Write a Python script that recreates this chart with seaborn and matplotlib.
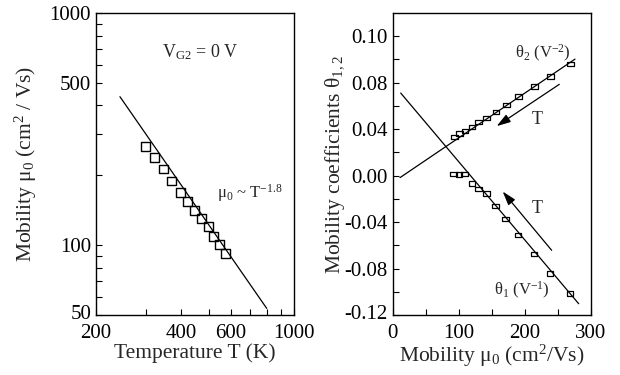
import matplotlib
matplotlib.use("Agg")
import matplotlib.pyplot as plt
import seaborn as sns
import numpy as np
from matplotlib.ticker import FixedLocator, NullFormatter, FixedFormatter
from matplotlib.transforms import ScaledTranslation

# ---------------- data ----------------
temp_T = [300, 322, 346, 370, 397, 421, 445, 471, 499, 521, 545, 572]
mu0_T = [267, 238, 213, 189, 169, 154, 141, 130, 120, 109, 101, 92]
fit_T = [243, 801]
fit_mu = [436, 53.4]

mu_theta2 = [93.3, 101.4, 109.4, 120.0, 130.1, 142.2, 156.3, 172.0, 190.6, 214.8, 239.0, 269.3]
theta2 = [0.0334, 0.0363, 0.0383, 0.0420, 0.0460, 0.0497, 0.0549, 0.0609, 0.0680, 0.0766, 0.0854, 0.0963]
mu_theta1 = [91.7, 100.3, 108.9, 120.0, 130.1, 142.2, 155.2, 170.9, 189.5, 213.7, 237.9, 268.6]
theta1 = [0.0015, 0.0009, 0.0015, -0.0069, -0.0115, -0.0154, -0.0261, -0.0372, -0.0509, -0.0674, -0.0843, -0.1015]
fit2_mu = [11.1, 275.8]
fit2_theta = [-0.0017, 0.1003]
fit1_mu = [12.1, 281.4]
fit1_theta = [0.0711, -0.1103]

left_xticks = [200, 400, 600, 1000]
left_xminor = [300, 500, 700, 800, 900]
left_yticks = [50, 100, 500, 1000]
left_yminor = [60, 70, 80, 90, 200, 300, 400, 600, 700, 800, 900]
right_xticks = [0, 100, 200, 300]
right_xminor = [50, 150, 250]
right_yticks = [-0.12, -0.08, -0.04, 0.00, 0.04, 0.08, 0.12]
right_yticklabels = ["-0.12", "-0.08", "-0.04", "0.00", "0.04", "0.08", "0.10"]
right_yminor = [-0.10, -0.06, -0.02, 0.02, 0.06, 0.10]

# ---------------- style ----------------
sns.set_theme(style="ticks")
plt.rcParams["font.family"] = ["Liberation Serif", "DejaVu Serif"]
plt.rcParams["mathtext.fontset"] = "custom"
plt.rcParams["mathtext.rm"] = "Liberation Serif"
plt.rcParams["mathtext.it"] = "Liberation Serif"
plt.rcParams["mathtext.default"] = "regular"
plt.rcParams["axes.linewidth"] = 1.0

fig = plt.figure(figsize=(6.2, 3.75), dpi=100)
ax1 = fig.add_axes([0.1548, 0.16, 0.3194, 0.8053])
ax2 = fig.add_axes([0.6334, 0.16, 0.3198, 0.8053])

FS = 15.5
TFS = 15

# ---------------- left panel ----------------
sns.lineplot(x=fit_T, y=fit_mu, ax=ax1, color="black", lw=0.9)
sns.scatterplot(x=temp_T, y=mu0_T, ax=ax1, marker="s", s=40,
                facecolors="none", edgecolor="black", linewidth=1.0)
ax1.set_xscale("log")
ax1.set_yscale("log")
ax1.set_xlim(200, 1000)
ax1.set_ylim(50, 1000)
ax1.xaxis.set_major_locator(FixedLocator(left_xticks))
ax1.xaxis.set_major_formatter(FixedFormatter([str(v) for v in left_xticks]))
ax1.xaxis.set_minor_locator(FixedLocator(left_xminor))
ax1.xaxis.set_minor_formatter(NullFormatter())
ax1.yaxis.set_major_locator(FixedLocator(left_yticks))
ax1.yaxis.set_major_formatter(FixedFormatter([str(v) for v in left_yticks]))
ax1.yaxis.set_minor_locator(FixedLocator(left_yminor))
ax1.yaxis.set_minor_formatter(NullFormatter())
ax1.set_xlabel("Temperature T (K)", fontsize=FS, labelpad=0)
ax1.set_ylabel("Mobility μ$_0$ (cm$^2$ / Vs)", fontsize=FS, labelpad=8)
ax1.text(0.525, 0.871, "V$_{G2}$ = 0 V", transform=ax1.transAxes,
         ha="center", va="center", fontsize=13)
ax1.text(0.61, 0.404, "μ$_0$ ~ T$^{-1.8}$", transform=ax1.transAxes,
         ha="left", va="center", fontsize=12)

# ---------------- right panel ----------------
rect = [(-1.5, -1), (1.5, -1), (1.5, 1), (-1.5, 1), (-1.5, -1)]
sns.lineplot(x=fit2_mu, y=fit2_theta, ax=ax2, color="black", lw=0.9)
sns.lineplot(x=fit1_mu, y=fit1_theta, ax=ax2, color="black", lw=0.9)
sns.scatterplot(x=mu_theta2, y=theta2, ax=ax2, marker=rect, s=22,
                facecolors="none", edgecolor="black", linewidth=0.9)
sns.scatterplot(x=mu_theta1, y=theta1, ax=ax2, marker=rect, s=22,
                facecolors="none", edgecolor="black", linewidth=0.9)
ax2.set_xlim(0, 300)
ax2.set_ylim(-0.12, 0.14)
ax2.xaxis.set_major_locator(FixedLocator(right_xticks))
ax2.xaxis.set_major_formatter(FixedFormatter([str(v) for v in right_xticks]))
ax2.xaxis.set_minor_locator(FixedLocator(right_xminor))
ax2.yaxis.set_major_locator(FixedLocator(right_yticks))
ax2.yaxis.set_major_formatter(FixedFormatter(right_yticklabels))
ax2.yaxis.set_minor_locator(FixedLocator(right_yminor))
ax2.set_xlabel("Mobility μ$_0$ (cm$^2$/Vs)", fontsize=FS, labelpad=0)
ax2.set_ylabel("Mobility coefficients θ$_{1,2}$", fontsize=FS, labelpad=-2)

arrow_kw = dict(arrowstyle="-|>,head_length=0.7,head_width=0.22",
                color="black", lw=0.9, mutation_scale=12, shrinkA=0, shrinkB=0)
ax2.annotate("", xy=(157.3, 0.0426), xytext=(252.1, 0.0786), arrowprops=arrow_kw)
ax2.annotate("", xy=(166.4, -0.0137), xytext=(240.5, -0.0643), arrowprops=arrow_kw)
ax2.text(217.9, 0.0486, "T", ha="center", va="center", fontsize=13)
ax2.text(218.9, -0.028, "T", ha="center", va="center", fontsize=13)
ax2.text(228, 0.1049, "θ$_2$ (V$^{-2}$)", ha="center", va="center", fontsize=12)
ax2.text(195.7, -0.0986, "θ$_1$ (V$^{-1}$)", ha="center", va="center", fontsize=12)

for ax in (ax1, ax2):
    for s in ax.spines.values():
        s.set_visible(True)
        s.set_color("black")
        s.set_linewidth(1.0)
    ax.tick_params(which="both", direction="in", length=4, width=0.8,
                   top=False, right=False, labelsize=TFS, colors="black")
    ax.tick_params(axis="x", which="both", pad=6.5)
    ax.tick_params(axis="y", which="both", pad=3.5)

# lift the lowest y tick labels slightly so they clear the first x tick label
for ax in (ax1, ax2):
    lbl = ax.yaxis.get_majorticklabels()[0]
    lbl.set_transform(lbl.get_transform() + ScaledTranslation(0, 2.5 / 72, fig.dpi_scale_trans))

fig.savefig("out.png", dpi=100)
